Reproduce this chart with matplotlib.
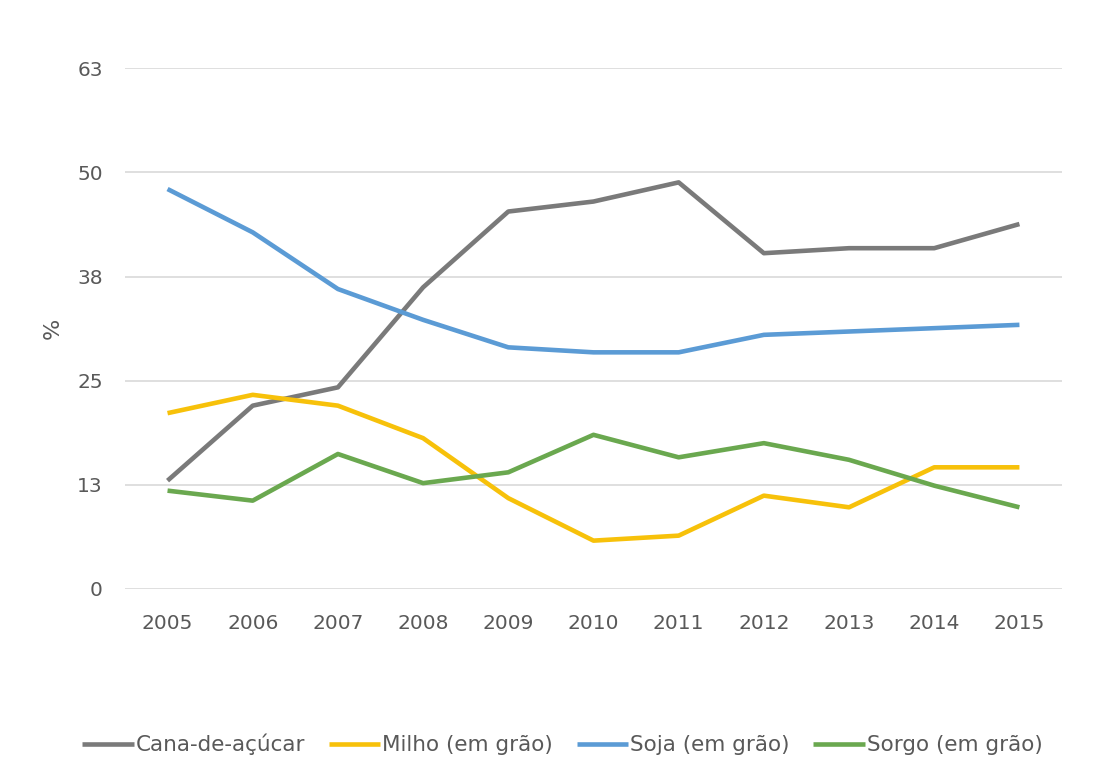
import matplotlib
matplotlib.use("Agg")
import matplotlib.pyplot as plt

plt.rcParams['font.family'] = ['DejaVu Sans']

years = [2005, 2006, 2007, 2008, 2009, 2010, 2011, 2012, 2013, 2014, 2015]
cana = [13.0, 22.0, 24.2, 36.2, 45.3, 46.5, 48.8, 40.3, 40.9, 40.9, 43.8]
milho = [21.1, 23.3, 22.0, 18.1, 10.9, 5.8, 6.4, 11.2, 9.8, 14.6, 14.6]
soja = [48.0, 42.8, 36.0, 32.3, 29.0, 28.4, 28.4, 30.5, 30.9, 31.3, 31.7]
sorgo = [11.8, 10.6, 16.2, 12.7, 14.0, 18.5, 15.8, 17.5, 15.5, 12.4, 9.8]

y_ticks = [0, 12.5, 25, 37.5, 50, 62.5]
y_labels = ['0', '13', '25', '38', '50', '63']

fig = plt.figure(figsize=(10.96, 7.58), dpi=100)
ax = fig.add_axes([0.114, 0.223, 0.855, 0.687])

series = [
    ('Cana-de-açúcar', cana, '#7a7a7a'),
    ('Milho (em grão)', milho, '#f7c10a'),
    ('Soja (em grão)', soja, '#5b9bd5'),
    ('Sorgo (em grão)', sorgo, '#6aa84f'),
]
for name, vals, col in series:
    ax.plot(years, vals, color=col, lw=3.3, label=name, solid_capstyle='butt')

ax.set_xlim(2004.5, 2015.5)
ax.set_ylim(0, 62.5)
ax.set_xticks(years)
ax.set_xticklabels([str(y) for y in years])
ax.set_yticks(y_ticks)
ax.set_yticklabels(y_labels)
ax.grid(axis='y', color='#d9d9d9', lw=1.2)
ax.set_axisbelow(True)
for s in ax.spines.values():
    s.set_visible(False)
ax.tick_params(length=0, labelsize=14.5, labelcolor='#595959')
ax.tick_params(axis='x', pad=18)
ax.tick_params(axis='y', pad=16)
ax.set_ylabel('%', fontsize=16, color='#595959', labelpad=10)

leg = fig.legend(loc='lower center', bbox_to_anchor=(0.513, -0.022), ncol=4,
                 frameon=False, fontsize=15.5, handlelength=2.4,
                 handletextpad=0.08, columnspacing=1.1)
for t in leg.get_texts():
    t.set_color('#595959')

fig.savefig('out.png', dpi=100, facecolor='white')
